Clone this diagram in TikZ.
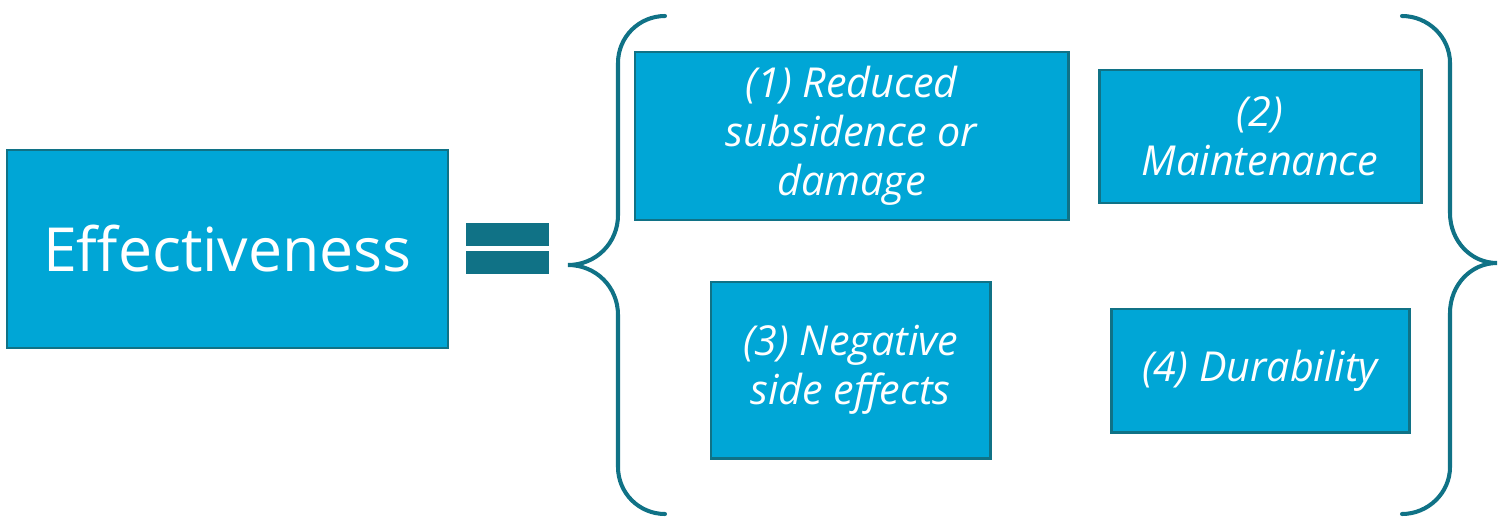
\documentclass[tikz,border=0pt]{standalone}
\usepackage{fontspec}
\setmainfont{Open Sans}
\usetikzlibrary{positioning}
\definecolor{boxblue}{RGB}{0,166,214}
\definecolor{tealline}{RGB}{16,114,134}

\begin{document}
\begin{tikzpicture}[x=0.02cm, y=-0.02cm, font=\fontsize{23.5}{28}\selectfont\itshape]
  \tikzstyle{box}=[rectangle, fill=boxblue, draw=tealline, line width=1.7pt, text=white, align=center, inner sep=0pt]
  \tikzstyle{brace}=[draw=tealline, line width=2.3pt, line cap=round]
  \useasboundingbox (0,0) rectangle (1499,518);

  \node (eff) [box, minimum width=441*0.02cm, minimum height=198*0.02cm, font=\fontsize{34.6}{40}\selectfont\upshape] at (227.5,249) {Effectiveness};

  \node (red) [box, minimum width=433*0.02cm, minimum height=168*0.02cm] at (851.5,136) {(1) Reduced\\subsidence or\\damage};
  \node (mnt) [box, minimum width=322*0.02cm, minimum height=133*0.02cm] at (1260,136.5) {(2)\\Maintenance};
  \node (neg) [box, minimum width=279*0.02cm, minimum height=176*0.02cm] at (850.5,370) {(3) Negative\\side effects};
  \node (dur) [box, minimum width=298*0.02cm, minimum height=123*0.02cm] at (1260,370.5) {(4) Durability};

  % equals sign
  \fill[tealline] (466,223) rectangle (549,246);
  \fill[tealline] (466,251) rectangle (549,274);

  % braces
  \draw[brace] (665,16) .. controls (639,16) and (618,37) .. (618,63) -- (618,215)
    .. controls (618,243) and (596,265) .. (568,265)
    .. controls (596,265) and (618,287) .. (618,315) -- (618,467)
    .. controls (618,493) and (639,514) .. (665,514);
  \draw[brace] (1402,16) .. controls (1428,16) and (1450,37) .. (1450,63) -- (1450,213)
    .. controls (1450,241) and (1471,263) .. (1497,263)
    .. controls (1471,263) and (1450,285) .. (1450,313) -- (1450,467)
    .. controls (1450,493) and (1428,514) .. (1402,514);
\end{tikzpicture}
\end{document}
